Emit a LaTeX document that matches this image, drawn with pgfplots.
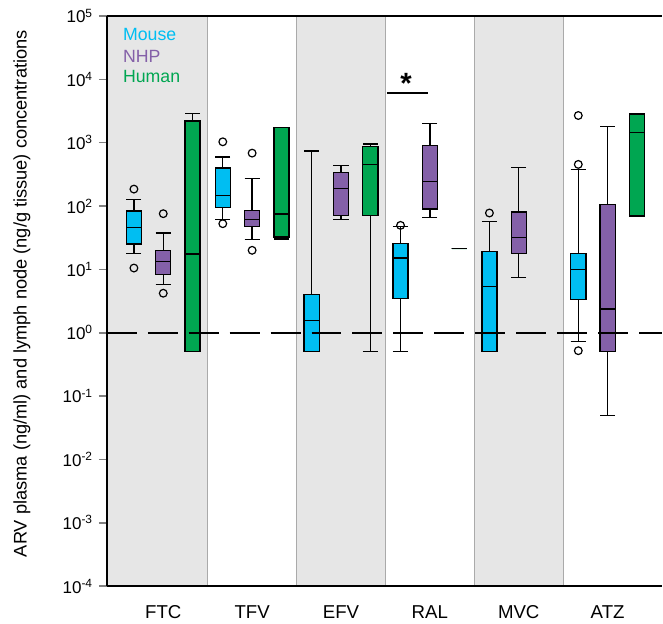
\documentclass[border=0pt]{standalone}
\usepackage{fontspec}
\setmainfont{Liberation Sans}
\usepackage{pgfplots}
\pgfplotsset{compat=1.18}
\usepgfplotslibrary{statistics}
\definecolor{mouse}{RGB}{0,190,242}
\definecolor{nhp}{RGB}{132,96,168}
\definecolor{human}{RGB}{0,166,81}
\definecolor{band}{RGB}{230,230,230}
\definecolor{sep}{RGB}{170,170,170}
\pgfplotsset{
  bp/.style={boxplot prepared={box extend=0.17, whisker extend=0.17, #1},
    draw=black, line width=1.0pt, mark=o, mark size=2.9pt,
    mark options={fill=white, draw=black, solid, line width=0.9pt}},
}
\begin{document}
\begin{tikzpicture}[font=\fontsize{13.3}{16}\selectfont]
\begin{axis}[
  scale only axis, width=417pt, height=428.25pt,
  xmin=0.365, xmax=6.612, ymin=1e-4, ymax=1e5, ymode=log,
  yminorticks=false,
  ytick={1e-4,1e-3,1e-2,1e-1,1,1e1,1e2,1e3,1e4,1e5},
  yticklabels={10\textsuperscript{-4},10\textsuperscript{-3},10\textsuperscript{-2},10\textsuperscript{-1},10\textsuperscript{0},10\textsuperscript{1},10\textsuperscript{2},10\textsuperscript{3},10\textsuperscript{4},10\textsuperscript{5}},
  xtick={1,2,3,4,5,6}, xticklabels={FTC,TFV,EFV,RAL,MVC,ATZ},
  xtick style={draw=none},
  xticklabel style={font=\fontsize{14}{16}\selectfont, yshift=-5pt},
  yticklabel style={font=\fontsize{12.8}{15}\selectfont, xshift=-1pt},
  axis x line*=box, axis y line*=left,
  axis line style={line width=1.5pt},
  ytick style={line width=1.2pt}, tick align=outside, major tick length=6pt,
  axis on top, clip=false,
  ylabel={ARV plasma (ng/ml) and lymph node (ng/g tissue) concentrations},
  every axis y label/.style={at={(rel axis cs:-0.153,0.513)}, rotate=90, anchor=center, font=\fontsize{13.7}{16}\selectfont},
  boxplot/draw direction=y,
]
\path (rel axis cs:-0.1924,-0.056) rectangle (rel axis cs:1,1.028);
% background bands
\addplot[fill=band, draw=none] coordinates {(0.365,1e-4) (1.5,1e-4) (1.5,1e5) (0.365,1e5)} -- cycle;
\addplot[fill=band, draw=none] coordinates {(2.5,1e-4) (3.5,1e-4) (3.5,1e5) (2.5,1e5)} -- cycle;
\addplot[fill=band, draw=none] coordinates {(4.5,1e-4) (5.5,1e-4) (5.5,1e5) (4.5,1e5)} -- cycle;
\addplot[sep, line width=0.8pt] coordinates {(1.5,1e-4) (1.5,1e5)};
\addplot[sep, line width=0.8pt] coordinates {(2.5,1e-4) (2.5,1e5)};
\addplot[sep, line width=0.8pt] coordinates {(3.5,1e-4) (3.5,1e5)};
\addplot[sep, line width=0.8pt] coordinates {(4.5,1e-4) (4.5,1e5)};
\addplot[sep, line width=0.8pt] coordinates {(5.5,1e-4) (5.5,1e5)};
% FTC
\addplot[bp={draw position=0.67, lower whisker=18, lower quartile=25, median=46, upper quartile=83, upper whisker=126}, fill=mouse] table[row sep=\\,y index=0] {y\\ 185\\ 10.5\\};
\addplot[bp={draw position=1.0, lower whisker=5.8, lower quartile=8.4, median=13.4, upper quartile=20, upper whisker=37.5}, fill=nhp] table[row sep=\\,y index=0] {y\\ 75.7\\ 4.2\\};
\addplot[bp={draw position=1.33, lower whisker=0.5, lower quartile=0.5, median=17.5, upper quartile=2190, upper whisker=2880}, fill=human] coordinates {};
% TFV
\addplot[bp={draw position=1.67, lower whisker=61, lower quartile=95, median=145, upper quartile=397, upper whisker=592}, fill=mouse] table[row sep=\\,y index=0] {y\\ 1032\\ 52.6\\};
\addplot[bp={draw position=2.0, lower whisker=29.5, lower quartile=47, median=61, upper quartile=84, upper whisker=270}, fill=nhp] table[row sep=\\,y index=0] {y\\ 684\\ 20\\};
\addplot[bp={draw position=2.33, lower whisker=30.2, lower quartile=32.4, median=74.8, upper quartile=1717, upper whisker=1717}, fill=human] coordinates {};
% EFV
\addplot[bp={draw position=2.67, lower whisker=0.5, lower quartile=0.5, median=1.55, upper quartile=4.0, upper whisker=735}, fill=mouse] coordinates {};
\addplot[bp={draw position=3.0, lower whisker=61, lower quartile=71, median=187.5, upper quartile=339, upper whisker=432}, fill=nhp] coordinates {};
\addplot[bp={draw position=3.33, lower whisker=0.5, lower quartile=71, median=448, upper quartile=861, upper whisker=948}, fill=human] coordinates {};
% RAL
\addplot[bp={draw position=3.67, lower whisker=0.5, lower quartile=3.46, median=15.1, upper quartile=25.8, upper whisker=48}, fill=mouse] table[row sep=\\,y index=0] {y\\ 49.5\\};
\addplot[bp={draw position=4.0, lower whisker=65.5, lower quartile=89.8, median=245, upper quartile=893, upper whisker=2008}, fill=nhp] coordinates {};
\addplot[bp={draw position=4.33, lower whisker=21.2, lower quartile=21.2, median=21.2, upper quartile=21.2, upper whisker=21.2}, fill=human] coordinates {};
% MVC
\addplot[bp={draw position=4.67, lower whisker=0.5, lower quartile=0.5, median=5.4, upper quartile=19.3, upper whisker=56.6}, fill=mouse] table[row sep=\\,y index=0] {y\\ 77.6\\};
\addplot[bp={draw position=5.0, lower whisker=7.5, lower quartile=17.9, median=31.7, upper quartile=80.5, upper whisker=406}, fill=nhp] coordinates {};
% ATZ
\addplot[bp={draw position=5.67, lower whisker=0.72, lower quartile=3.33, median=9.9, upper quartile=17.7, upper whisker=374}, fill=mouse] table[row sep=\\,y index=0] {y\\ 2685\\ 454\\ 0.52\\};
\addplot[bp={draw position=6.0, lower whisker=0.0495, lower quartile=0.5, median=2.38, upper quartile=106, upper whisker=1800}, fill=nhp] coordinates {};
\addplot[bp={draw position=6.33, lower whisker=69.5, lower quartile=69.5, median=1449, upper quartile=2850, upper whisker=2850}, fill=human] coordinates {};
% reference line
\addplot[black, line width=1.5pt, dash pattern=on 22.5pt off 8.25pt] coordinates {(0.365,1) (6.612,1)};
% significance
\addplot[black, line width=1.5pt] coordinates {(3.515,6040) (3.98,6040)};
\node[inner sep=0] at (axis cs:3.733,8690) {\fontsize{22}{22}\selectfont\bfseries *};
% legend text
\node[anchor=base west, inner sep=0, text=mouse] at (axis cs:0.545,40360) {Mouse};
\node[anchor=base west, inner sep=0, text=nhp] at (axis cs:0.545,18160) {NHP};
\node[anchor=base west, inner sep=0, text=human] at (axis cs:0.545,8790) {Human};
\end{axis}
\end{tikzpicture}
\end{document}
